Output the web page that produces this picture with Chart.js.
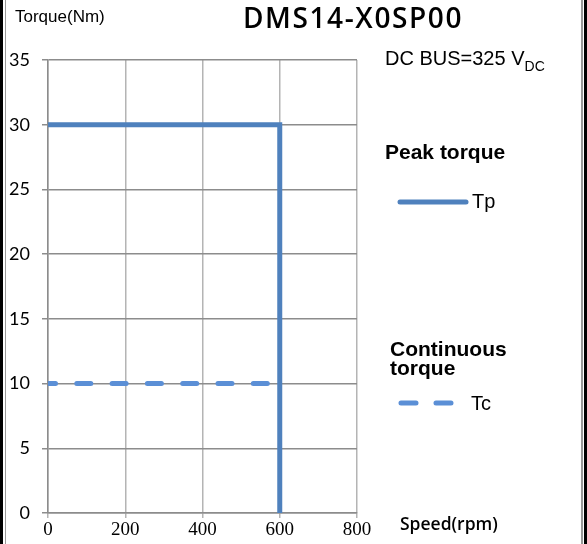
<!DOCTYPE html>
<html>
<head>
<meta charset="utf-8">
<script src="https://cdn.jsdelivr.net/npm/chart.js@4/dist/chart.umd.min.js"></script>
<style>
  html, body { margin: 0; padding: 0; background: #fff; }
  #wrap { position: relative; width: 587px; height: 544px; overflow: hidden; }
  #chart { position: absolute; left: 0; top: 0; }
  .txt { position: absolute; white-space: nowrap; color: #000; }
  .frameL { position: absolute; left: 0; top: 0; width: 3px; height: 544px; background: #000; }
  .frameL2 { position: absolute; left: 5px; top: 0; width: 1px; height: 544px; background: #999; }
  .frameR { position: absolute; left: 581px; top: 0; width: 2px; height: 544px; background: #999; }
  .frameR2 { position: absolute; left: 584px; top: 0; width: 3px; height: 544px; background: #000; }
</style>
</head>
<body>
<div id="wrap">
  <canvas id="chart" width="587" height="544"></canvas>
  <div class="frameL"></div><div class="frameL2"></div>
  <div class="frameR"></div><div class="frameR2"></div>

  <div class="txt" style="left:15px;top:7px;font:17px 'Liberation Sans',Arial,sans-serif;">Torque(Nm)</div>
  <div class="txt" style="left:243px;top:-2px;font:600 28px 'Open Sans',sans-serif;letter-spacing:1.6px;">DMS14-X0SP00</div>
  <div class="txt" style="left:385px;top:47px;font:20px 'Liberation Sans',Arial,sans-serif;">DC BUS=325 V<sub style="font-size:14px;vertical-align:-6px;">DC</sub></div>

  <div class="txt" style="left:385px;top:140px;font:bold 21px 'Liberation Sans',Arial,sans-serif;">Peak torque</div>
  <svg class="txt" style="left:396px;top:196px;" width="76" height="12">
    <line x1="4" y1="6" x2="70" y2="6" stroke="#4f81bd" stroke-width="5" stroke-linecap="round"/>
  </svg>
  <div class="txt" style="left:472px;top:190px;font:20px 'Liberation Sans',Arial,sans-serif;">Tp</div>

  <div class="txt" style="left:390px;top:339px;font:bold 21px 'Liberation Sans',Arial,sans-serif;line-height:19px;">Continuous<br>torque</div>
  <svg class="txt" style="left:396px;top:397px;" width="62" height="12">
    <line x1="5" y1="6" x2="57" y2="6" stroke="#5b8fd6" stroke-width="5" stroke-linecap="round" stroke-dasharray="15 20"/>
  </svg>
  <div class="txt" style="left:471px;top:392px;font:20px 'Liberation Sans',Arial,sans-serif;">Tc</div>

  <div class="txt" style="left:400px;top:511px;font:600 17.5px 'Open Sans',sans-serif;">Speed(rpm)</div>
</div>
<script>
// valores
const speedTp = [0, 600, 600];
const torqueTp = [30, 30, 0];
const speedTc = [0, 600];
const torqueTc = [10, 10];

const xTicks = [0, 200, 400, 600, 800];
const yTicks = [0, 5, 10, 15, 20, 25, 30, 35];

const toPoints = (xs, ys) => xs.map((x, i) => ({ x: x, y: ys[i] }));

const ctx = document.getElementById('chart').getContext('2d');
new Chart(ctx, {
  type: 'scatter',
  data: {
    datasets: [
      {
        label: 'Tc',
        data: toPoints(speedTc, torqueTc),
        showLine: true,
        borderColor: '#5b8fd6',
        borderWidth: 5,
        borderDash: [14, 21.3],
        borderDashOffset: 6.5,
        borderCapStyle: 'round',
        pointRadius: 0,
        order: 2
      },
      {
        label: 'Tp',
        data: toPoints(speedTp, torqueTp),
        showLine: true,
        borderColor: '#4f81bd',
        borderWidth: 5,
        borderJoinStyle: 'miter',
        pointRadius: 0,
        order: 1
      }
    ]
  },
  options: {
    responsive: false,
    animation: false,
    layout: { padding: { left: 0, right: 230, top: 60, bottom: 0 } },
    plugins: { legend: { display: false }, tooltip: { enabled: false } },
    scales: {
      x: {
        type: 'linear',
        min: 0, max: 800,
        afterBuildTicks: (axis) => { axis.ticks = xTicks.map(v => ({ value: v })); },
        afterFit: (axis) => { axis.height = 31; },
        grid: { color: '#b4b4b4', lineWidth: 1.5, tickLength: 5, drawTicks: true },
        border: { color: '#8c8c8c', width: 1.5 },
        ticks: {
          color: '#000',
          padding: 1,
          maxRotation: 0,
          font: { family: "'Liberation Serif', serif", size: 19 }
        }
      },
      y: {
        min: 0, max: 35,
        afterBuildTicks: (axis) => { axis.ticks = yTicks.map(v => ({ value: v })); },
        afterFit: (axis) => { axis.width = 48; },
        grid: { color: '#8c8c8c', lineWidth: 1.5, tickLength: 6 },
        border: { color: '#8c8c8c', width: 1.5 },
        ticks: {
          color: '#000',
          padding: 12,
          font: { family: "Lato, sans-serif", size: 18 }
        }
      }
    }
  }
});
</script>
</body>
</html>
